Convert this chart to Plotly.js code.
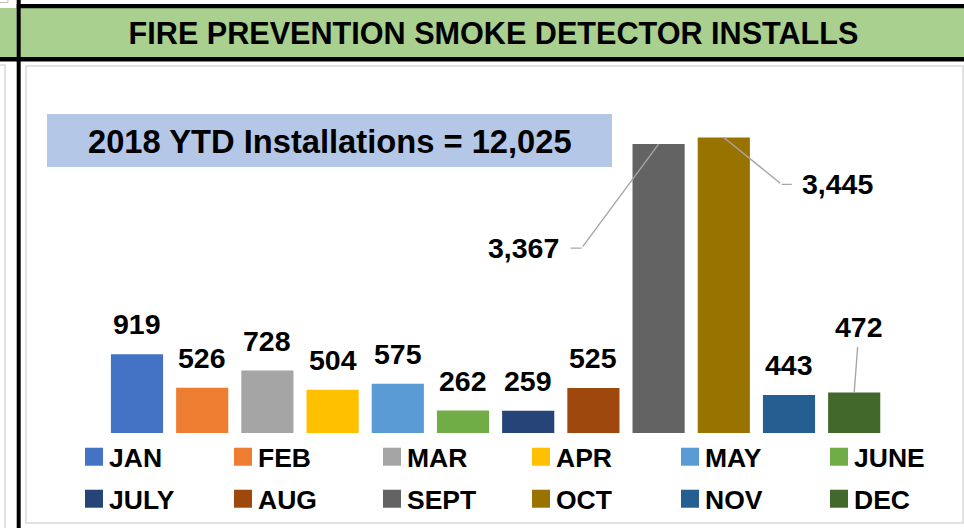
<!DOCTYPE html>
<html>
<head>
<meta charset="utf-8">
<script src="https://cdn.plot.ly/plotly-3.0.1.min.js"></script>
<style>
html,body{margin:0;padding:0;background:#fff;overflow:hidden}
#chart{width:964px;height:528px}
/* Excel-style larger legend swatches, closer to their labels */
#chart .legendpoints path{d:path("M9,9H-9V-9H9Z")}
#chart g.traces text{transform:translateX(-5px)}
</style>
</head>
<body>
<div id="chart"></div>
<script>
// ---- data ----
const months = ['JAN','FEB','MAR','APR','MAY','JUNE','JULY','AUG','SEPT','OCT','NOV','DEC'];
const installs = [919,526,728,504,575,262,259,525,3367,3445,443,472];
const colors = ['#4472C4','#ED7D31','#A5A5A5','#FFC000','#5B9BD5','#70AD47','#264478','#9E480E','#636363','#997300','#255E91','#43682B'];
const titleText = 'FIRE PREVENTION SMOKE DETECTOR INSTALLS';
const ytdText = '2018 YTD Installations = 12,025';

// ---- layout geometry (pixels) ----
const W = 964, H = 528;
const M = {l: 26, r: 1, t: 66, b: 95};
const PW = W - M.l - M.r, PH = H - M.t - M.b;
const px = x => (x - M.l) / PW;
const py = y => (H - M.b - y) / PH;
const FONT = 'Liberation Sans, Arial, sans-serif';
const LEADER = '#A6A6A6';

// callout label placement (pixel offsets from bar top)
const callouts = {
  SEPT: {ex: -77, ey: 104, lx: -58, ss: 10},
  OCT:  {ex: 58,  ey: 47,  lx: 56,  ss: 9}
};
const aboveCallouts = { DEC: {ax: 5, ay: -66} };

const fmt = v => v.toLocaleString('en-US');

const traces = months.map((m, i) => ({
  type: 'bar',
  x: [m],
  y: [installs[i]],
  name: m,
  marker: {color: colors[i]},
  legend: i < 6 ? 'legend' : 'legend2',
  hovertemplate: m + ': %{y:,}<extra></extra>'
}));

const labelFont = {family: FONT, size: 28.5, color: '#000', weight: 'bold'};
const annotations = [];
months.forEach((m, i) => {
  const v = installs[i];
  if (callouts[m]) {
    const c = callouts[m];
    annotations.push({x: m, y: v, xref: 'x', yref: 'y', text: '', showarrow: true,
      arrowhead: 0, arrowwidth: 1.4, arrowcolor: LEADER, ax: c.ex, ay: c.ey});
    annotations.push({x: m, y: v, xref: 'x', yref: 'y', text: fmt(v), font: labelFont,
      xshift: c.ex, yshift: -c.ey, showarrow: true, arrowhead: 0, arrowwidth: 1.4,
      arrowcolor: LEADER, ax: c.lx, ay: 0, startstandoff: c.ss});
  } else if (aboveCallouts[m]) {
    const c = aboveCallouts[m];
    annotations.push({x: m, y: v, xref: 'x', yref: 'y', text: fmt(v), font: labelFont,
      showarrow: true, arrowhead: 0, arrowwidth: 1.4, arrowcolor: LEADER,
      ax: c.ax, ay: c.ay, startstandoff: 3});
  } else {
    annotations.push({x: m, y: v, xref: 'x', yref: 'y', text: fmt(v), font: labelFont,
      showarrow: false, yanchor: 'middle', yshift: 30});
  }
});
annotations.push({xref: 'paper', yref: 'paper', x: px(330), y: py(141), text: ytdText,
  showarrow: false, xanchor: 'center', yanchor: 'middle',
  font: {family: FONT, size: 32.7, color: '#000', weight: 'bold'}});

function rect(x0, y0, x1, y1, fill, lineColor, lineWidth) {
  return {type: 'rect', xref: 'paper', yref: 'paper', layer: 'below',
    x0: px(x0), x1: px(x1), y0: py(y0), y1: py(y1),
    fillcolor: fill, line: {color: lineColor || fill, width: lineWidth || 0}};
}
const shapes = [
  rect(-3, 8, 967, 57, '#A9D08E'),
  rect(-3, -3, 8, 2.5, '#FFFFFF', '#BFBFBF', 1),
  rect(-6, 65, 5, 531, '#FFFFFF', '#D9D9D9', 1.5),
  rect(26, 66, 963, 523, '#FFFFFF', '#D9D9D9', 1.5),
  rect(16.7, 4, 967, 8.3, '#000000'),
  rect(-3, 57, 967, 61.5, '#000000'),
  rect(16.7, -3, 20.7, 531, '#000000'),
  rect(47, 114, 612, 167, '#B4C7E7')
];

const legendBase = {
  orientation: 'h', xanchor: 'left', yanchor: 'middle', x: px(74),
  font: {family: FONT, size: 26.5, color: '#000', weight: 'bold'},
  entrywidth: 104, entrywidthmode: 'pixels', bgcolor: 'rgba(0,0,0,0)', borderwidth: 0
};

const layout = {
  width: W, height: H,
  margin: {l: M.l, r: M.r, t: M.t, b: M.b, autoexpand: false},
  paper_bgcolor: '#FFFFFF', plot_bgcolor: 'rgba(0,0,0,0)',
  title: {text: titleText, xref: 'container', yref: 'container',
    x: 493.5 / W, y: 1 - 33.5 / H, xanchor: 'center', yanchor: 'middle',
    font: {family: FONT, size: 30.6, color: '#000', weight: 'bold'}},
  barmode: 'overlay', bargap: 0.2,
  xaxis: {type: 'category', categoryorder: 'array', categoryarray: months,
    range: [-(137 - M.l) / 65.2, -(137 - M.l) / 65.2 + PW / 65.2],
    visible: false, fixedrange: true},
  yaxis: {range: [0, PH / 0.0858], visible: false, fixedrange: true},
  legend: Object.assign({}, legendBase, {y: py(457)}),
  legend2: Object.assign({}, legendBase, {y: py(499)}),
  shapes: shapes,
  annotations: annotations,
  showlegend: true
};

Plotly.newPlot('chart', traces, layout, {displayModeBar: false});
</script>
</body>
</html>
